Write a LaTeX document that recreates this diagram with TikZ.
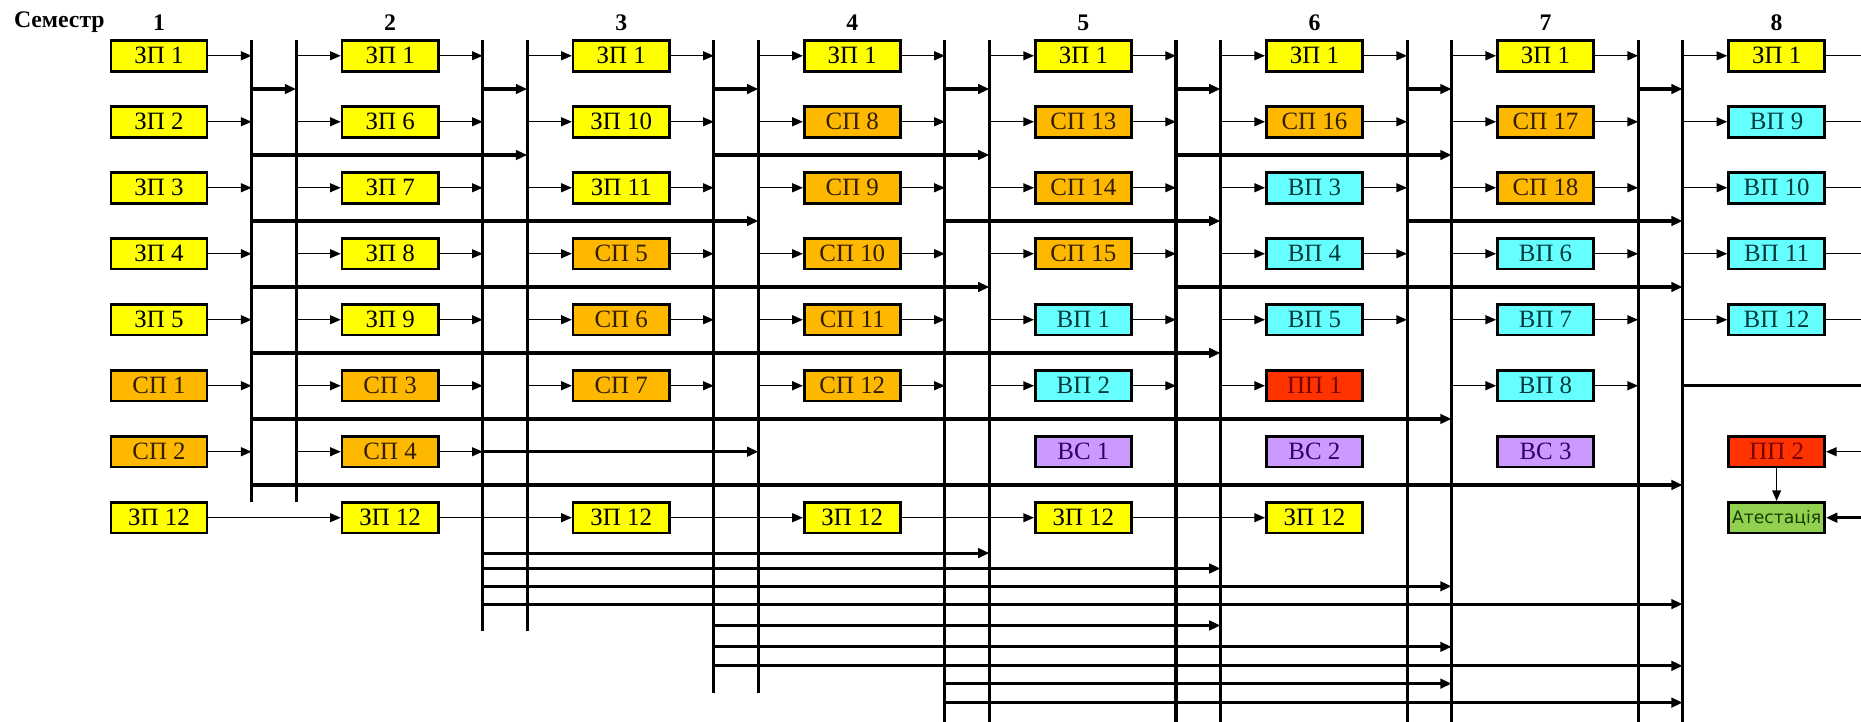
\documentclass[tikz,border=0pt]{standalone}
\usepackage{fontspec}
\setmainfont{Liberation Serif}
\newfontfamily\atfont{DejaVu Sans}
\usetikzlibrary{arrows.meta}

\begin{document}
\begin{tikzpicture}[x=1pt, y=-1pt,
    box/.style={draw, line width=2.2pt, minimum width=81pt, minimum height=26pt,
        inner sep=0pt, font=\fontsize{21}{22}\selectfont},
    boxZP/.style={box, fill=colorZP},
    boxSP/.style={box, fill=colorSP, text=textSP},
    boxVP/.style={box, fill=colorVP, text=textVP},
    boxVS/.style={box, fill=colorVS, text=textVS},
    boxPP/.style={box, fill=colorPP, text=textPP},
    boxAt/.style={box, fill=colorAt, text=textAt, font=\atfont\fontsize{14.5}{16}\selectfont},
    hdr/.style={font=\bfseries\fontsize{20}{22}\selectfont},
    link/.style={line width=1.2pt, -{Triangle[length=9pt, width=7.5pt]}},
    plain/.style={line width=1.2pt},
    bus/.style={line width=2.6pt},
    chan/.style={line width=2.6pt, -{Triangle[length=9.5pt, width=8pt]}}]
    % Кольори
    \definecolor{colorZP}{RGB}{255,255,0}
    \definecolor{colorSP}{RGB}{255,184,0}
    \definecolor{colorVP}{RGB}{102,255,255}
    \definecolor{colorVS}{RGB}{204,153,255}
    \definecolor{colorPP}{RGB}{255,51,0}
    \definecolor{colorAt}{RGB}{146,208,80}
    \definecolor{textSP}{RGB}{50,30,0}
    \definecolor{textVP}{RGB}{0,60,60}
    \definecolor{textVS}{RGB}{50,0,100}
    \definecolor{textPP}{RGB}{120,0,0}
    \definecolor{textAt}{RGB}{20,60,0}

    \useasboundingbox (0,0) rectangle (1568,608);

    % Заголовок
    \node[hdr] (sem) at (50,19) {Семестр};
    \foreach \c in {1,...,8}
        \node[hdr] (n\c) at ({134+194.7*(\c-1)},19) {\c};

    % Семестр 1
    \foreach \r/\s/\t in {1/boxZP/ЗП 1, 2/boxZP/ЗП 2, 3/boxZP/ЗП 3, 4/boxZP/ЗП 4,
            5/boxZP/ЗП 5, 6/boxSP/СП 1, 7/boxSP/СП 2, 8/boxZP/ЗП 12}
        \node[\s] (b1-\r) at (134,{47+55.6*(\r-1)}) {\t};
    % Семестр 2
    \foreach \r/\s/\t in {1/boxZP/ЗП 1, 2/boxZP/ЗП 6, 3/boxZP/ЗП 7, 4/boxZP/ЗП 8,
            5/boxZP/ЗП 9, 6/boxSP/СП 3, 7/boxSP/СП 4, 8/boxZP/ЗП 12}
        \node[\s] (b2-\r) at (328.7,{47+55.6*(\r-1)}) {\t};
    % Семестр 3
    \foreach \r/\s/\t in {1/boxZP/ЗП 1, 2/boxZP/ЗП 10, 3/boxZP/ЗП 11, 4/boxSP/СП 5,
            5/boxSP/СП 6, 6/boxSP/СП 7, 8/boxZP/ЗП 12}
        \node[\s] (b3-\r) at (523.4,{47+55.6*(\r-1)}) {\t};
    % Семестр 4
    \foreach \r/\s/\t in {1/boxZP/ЗП 1, 2/boxSP/СП 8, 3/boxSP/СП 9, 4/boxSP/СП 10,
            5/boxSP/СП 11, 6/boxSP/СП 12, 8/boxZP/ЗП 12}
        \node[\s] (b4-\r) at (718.1,{47+55.6*(\r-1)}) {\t};
    % Семестр 5
    \foreach \r/\s/\t in {1/boxZP/ЗП 1, 2/boxSP/СП 13, 3/boxSP/СП 14, 4/boxSP/СП 15,
            5/boxVP/ВП 1, 6/boxVP/ВП 2, 7/boxVS/ВС 1, 8/boxZP/ЗП 12}
        \node[\s] (b5-\r) at (912.8,{47+55.6*(\r-1)}) {\t};
    % Семестр 6
    \foreach \r/\s/\t in {1/boxZP/ЗП 1, 2/boxSP/СП 16, 3/boxVP/ВП 3, 4/boxVP/ВП 4,
            5/boxVP/ВП 5, 6/boxPP/ПП 1, 7/boxVS/ВС 2, 8/boxZP/ЗП 12}
        \node[\s] (b6-\r) at (1107.5,{47+55.6*(\r-1)}) {\t};
    % Семестр 7
    \foreach \r/\s/\t in {1/boxZP/ЗП 1, 2/boxSP/СП 17, 3/boxSP/СП 18, 4/boxVP/ВП 6,
            5/boxVP/ВП 7, 6/boxVP/ВП 8, 7/boxVS/ВС 3}
        \node[\s] (b7-\r) at (1302.2,{47+55.6*(\r-1)}) {\t};
    % Семестр 8
    \foreach \r/\s/\t in {1/boxZP/ЗП 1, 2/boxVP/ВП 9, 3/boxVP/ВП 10, 4/boxVP/ВП 11,
            5/boxVP/ВП 12, 7/boxPP/ПП 2, 8/boxAt/Атестація}
        \node[\s] (b8-\r) at (1496.9,{47+55.6*(\r-1)}) {\t};

    % Шини між семестрами
    \foreach \g/\len in {1/389, 2/498, 3/550, 4/576, 5/576, 6/576, 7/576} {
        \coordinate (L\g) at ({212+194.7*(\g-1)},34);
        \coordinate (R\g) at ({249.5+194.7*(\g-1)},34);
        \draw[bus] (L\g) -- ++(0,\len);
        \draw[bus] (R\g) -- ++(0,\len);
    }
    \foreach \k in {1,...,7}
        \coordinate (ch\k) at (0,{75+55.6*(\k-1)});

    % Предмети -> шина
    \foreach \c/\rows in {1/{1,...,7}, 2/{1,...,7}, 3/{1,...,6}, 4/{1,...,6},
            5/{1,...,6}, 6/{1,...,5}, 7/{1,...,6}}
        \foreach \r in \rows
            \draw[link] (b\c-\r.east) -- (b\c-\r.east -| L\c);
    % Шина -> предмети
    \foreach \c/\p/\rows in {2/1/{1,...,7}, 3/2/{1,...,6}, 4/3/{1,...,6},
            5/4/{1,...,6}, 6/5/{1,...,6}, 7/6/{1,...,6}, 8/7/{1,...,5}}
        \foreach \r in \rows
            \draw[link] (b\c-\r.west -| R\p) -- (b\c-\r.west);

    % Переходи між шинами
    \foreach \g in {1,...,7}
        \draw[chan] (L\g |- ch1) -- (R\g |- ch1);
    \foreach \a/\b/\k in {1/2/2, 3/4/2, 5/6/2, 1/3/3, 4/5/3, 6/7/3,
            1/4/4, 5/7/4, 1/5/5, 1/6/6, 1/7/7}
        \draw[chan] (L\a |- ch\k) -- (R\b |- ch\k);
    \draw[chan] (b2-7.east -| L2) -- (b2-7.east -| R3);

    % Нижні лінії
    \foreach \a/\b/\y [count=\i] in {2/4/466, 2/5/479, 2/6/494, 2/7/509,
            3/5/527, 3/6/545, 3/7/561, 4/6/576, 4/7/592} {
        \coordinate (bt\i) at (0,\y);
        \draw[chan] (L\a |- bt\i) -- (R\b |- bt\i);
    }

    % ЗП 12
    \foreach \c/\n in {1/2, 2/3, 3/4, 4/5, 5/6}
        \draw[link] (b\c-8) -- (b\n-8);

    % Семестр 8, праворуч
    \coordinate (edge) at (1568,0);
    \foreach \r in {1,...,5}
        \draw[plain] (b8-\r.east) -- (b8-\r.east -| edge);
    \draw[bus] (R7 |- b7-6) -- (edge |- b7-6);
    \draw[link] (edge |- b8-7) -- (b8-7.east);
    \draw[chan] (edge |- b8-8) -- (b8-8.east);
    \draw[link] (b8-7) -- (b8-8);
\end{tikzpicture}
\end{document}
